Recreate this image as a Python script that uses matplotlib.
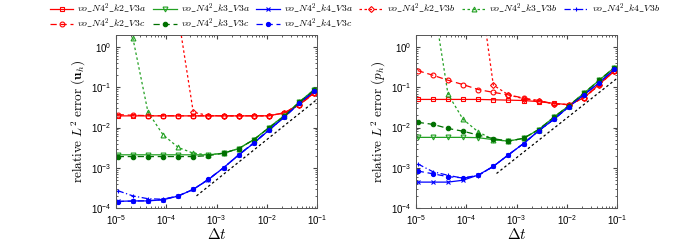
import numpy as np
import matplotlib
matplotlib.use("Agg")
import matplotlib.pyplot as plt
from matplotlib.ticker import LogLocator, LogFormatterSciNotation, NullFormatter

plt.rcParams['font.family'] = ['Liberation Sans', 'DejaVu Sans']
plt.rcParams['mathtext.fontset'] = 'cm'

nan = np.nan

# time steps
dt = [1.08e-5, 2.16e-5, 4.32e-5, 8.63e-5, 1.73e-4, 3.45e-4, 6.9e-4,
      1.38e-3, 2.76e-3, 5.52e-3, 1.105e-2, 2.21e-2, 4.42e-2, 8.84e-2]

# relative L2 error of u_h
u_k2_a = [0.0195, 0.0195, 0.0195, 0.0195, 0.0195, 0.0195, 0.0195, 0.0195, 0.0195, 0.0195, 0.0196, 0.0232, 0.037, 0.073]
u_k2_c = [0.021, 0.0202, 0.0198, 0.0197, 0.0196, 0.0196, 0.0196, 0.0196, 0.0196, 0.0196, 0.0196, 0.023, 0.036, 0.072]
u_k2_b = [nan, nan, nan, nan, 6.0, 0.024, 0.0199, 0.0196, 0.0196, 0.0196, 0.0196, 0.0232, 0.037, 0.073]
u_k3_a = [0.0021, 0.0021, 0.0021, 0.0021, 0.0021, 0.0021, 0.0021, 0.0023, 0.003, 0.005, 0.0100, 0.0195, 0.043, 0.088]
u_k3_c = [0.0019, 0.0019, 0.0019, 0.0019, 0.0019, 0.0019, 0.002, 0.0023, 0.003, 0.005, 0.0098, 0.019, 0.042, 0.086]
u_k3_b = [nan, 1.7, 0.0244, 0.0066, 0.0032, 0.0023, 0.0021, 0.0023, 0.003, 0.005, 0.0100, 0.0195, 0.043, 0.088]
u_k4_a = [1.46e-4, 1.5e-4, 1.5e-4, 1.6e-4, 1.98e-4, 2.9e-4, 5.1e-4, 1.0e-3, 2.08e-3, 4.1e-3, 8.6e-3, 0.018, 0.04, 0.08]
u_k4_c = [1.45e-4, 1.48e-4, 1.52e-4, 1.62e-4, 2.0e-4, 2.9e-4, 5.2e-4, 1.0e-3, 2.1e-3, 4.2e-3, 8.8e-3, 0.018, 0.04, 0.08]
u_k4_b = [2.7e-4, 2.0e-4, 1.7e-4, 1.65e-4, 2.0e-4, 2.9e-4, 5.1e-4, 1.0e-3, 2.08e-3, 4.1e-3, 8.6e-3, 0.018, 0.04, 0.08]

# relative L2 error of p_h
p_k2_a = [0.05, 0.05, 0.05, 0.05, 0.05, 0.049, 0.048, 0.047, 0.044, 0.040, 0.037, 0.055, 0.12, 0.25]
p_k2_c = [0.26, 0.2, 0.15, 0.117, 0.088, 0.075, 0.065, 0.054, 0.047, 0.039, 0.037, 0.055, 0.115, 0.26]
p_k2_b = [nan, nan, nan, nan, 60.0, 0.114, 0.065, 0.052, 0.046, 0.039, 0.037, 0.055, 0.115, 0.26]
p_k3_a = [0.0057, 0.0057, 0.0057, 0.0057, 0.0056, 0.005, 0.0046, 0.0054, 0.0089, 0.018, 0.035, 0.072, 0.15, 0.31]
p_k3_c = [0.0135, 0.012, 0.0095, 0.0081, 0.0065, 0.0053, 0.0046, 0.0054, 0.0089, 0.018, 0.035, 0.072, 0.15, 0.31]
p_k3_b = [nan, 17.0, 0.068, 0.016, 0.0078, 0.005, 0.0046, 0.0054, 0.0089, 0.018, 0.035, 0.072, 0.15, 0.31]
p_k4_a = [4.4e-4, 4.4e-4, 4.4e-4, 4.9e-4, 6.6e-4, 1.08e-3, 2.1e-3, 4.0e-3, 8.3e-3, 0.016, 0.033, 0.066, 0.13, 0.28]
p_k4_c = [8.3e-4, 7.1e-4, 6.0e-4, 5.6e-4, 6.5e-4, 1.08e-3, 2.1e-3, 4.0e-3, 8.3e-3, 0.016, 0.033, 0.066, 0.13, 0.28]
p_k4_b = [1.25e-3, 8.0e-4, 6.5e-4, 5.5e-4, 6.4e-4, 1.08e-3, 2.1e-3, 4.0e-3, 8.3e-3, 0.016, 0.033, 0.066, 0.13, 0.28]

# slope-one reference lines
ref_x = [4e-4, 0.1]
ref_u = [2e-4, 0.05]
ref_p = [7.2e-4, 0.167]

names = ['k2_V3a', 'k3_V3a', 'k4_V3a', 'k2_V3b', 'k3_V3b', 'k4_V3b', 'k2_V3c', 'k3_V3c', 'k4_V3c']

RED, GREEN, DGREEN, BLUE = '#ff0000', '#22a022', '#007000', '#0000ff'

def styles():
    return {
        'k2_V3a': dict(color=RED, ls='-', marker='s', mfc='none'),
        'k3_V3a': dict(color=GREEN, ls='-', marker='v', mfc='none'),
        'k4_V3a': dict(color=BLUE, ls='-', marker='x', ms=3),
        'k2_V3b': dict(color=RED, ls=(0, (2, 2)), marker='D', mfc='none', ms=3),
        'k3_V3b': dict(color=GREEN, ls=(0, (2, 2)), marker='^', mfc='none'),
        'k4_V3b': dict(color=BLUE, ls=(0, (5, 2, 1, 2)), marker='+'),
        'k2_V3c': dict(color=RED, ls=(0, (5, 3)), marker='o', mfc='none'),
        'k3_V3c': dict(color=DGREEN, ls=(0, (5, 3)), marker='o', ms=3.2),
        'k4_V3c': dict(color=BLUE, ls=(0, (5, 3)), marker='o', ms=3),
    }

def draw(ax, data, ref_y, ylabel):
    st = styles()
    handles = {}
    for key in names:
        kw = dict(lw=0.9, ms=3.5, mew=0.8)
        kw.update(st[key])
        ln, = ax.plot(dt, data[key], label=r'$vo\_N4^2\_%s$' % key.replace('_', r'\_'), **kw)
        handles[key] = ln
    ax.plot(ref_x, ref_y, color='k', ls=(0, (2, 2)), lw=0.9)
    ax.set_xscale('log')
    ax.set_yscale('log')
    ax.set_xlim(1e-5, 1e-1)
    ax.set_ylim(1e-4, 2)
    ax.xaxis.set_major_locator(LogLocator(base=10, numticks=10))
    ax.yaxis.set_major_locator(LogLocator(base=10, numticks=10))
    ax.xaxis.set_minor_locator(LogLocator(base=10, subs=np.arange(2, 10), numticks=20))
    ax.yaxis.set_minor_locator(LogLocator(base=10, subs=np.arange(2, 10), numticks=20))
    ax.yaxis.set_major_formatter(LogFormatterSciNotation())
    ax.xaxis.set_minor_formatter(NullFormatter())
    ax.yaxis.set_minor_formatter(NullFormatter())
    ax.tick_params(which='both', direction='in', top=True, right=True, labelsize=7, color='#444444')
    ax.tick_params(which='major', length=3)
    ax.tick_params(which='minor', length=1.5)
    for s in ax.spines.values():
        s.set_color('#555555')
        s.set_linewidth(0.7)
    ax.set_xlabel(r'$\Delta t$', fontsize=11, labelpad=0)
    ax.set_ylabel(ylabel, fontsize=9.5, labelpad=2)
    return handles

fig = plt.figure(figsize=(6.8, 2.46), dpi=100)
ax1 = fig.add_axes([0.1706, 0.1545, 0.2956, 0.7033])
ax2 = fig.add_axes([0.6118, 0.1545, 0.2956, 0.7033])

data_u = dict(zip(names, [u_k2_a, u_k3_a, u_k4_a, u_k2_b, u_k3_b, u_k4_b, u_k2_c, u_k3_c, u_k4_c]))
data_p = dict(zip(names, [p_k2_a, p_k3_a, p_k4_a, p_k2_b, p_k3_b, p_k4_b, p_k2_c, p_k3_c, p_k4_c]))

h = draw(ax1, data_u, ref_u, r'$\mathrm{relative}\ L^2\ \mathrm{error}\ (\mathbf{u}_h)$')
draw(ax2, data_p, ref_p, r'$\mathrm{relative}\ L^2\ \mathrm{error}\ (p_h)$')

order = ['k2_V3a', 'k2_V3c', 'k3_V3a', 'k3_V3c', 'k4_V3a', 'k4_V3c', 'k2_V3b', 'k3_V3b', 'k4_V3b']
fig.legend([h[k] for k in order], [h[k].get_label() for k in order],
           loc='upper left', bbox_to_anchor=(0.063, 1.02), ncol=6, frameon=False,
           fontsize=7, handlelength=2.45, handletextpad=0.4, columnspacing=0.65,
           labelspacing=0.08, borderpad=0.2)

fig.savefig('out.png', dpi=100)
